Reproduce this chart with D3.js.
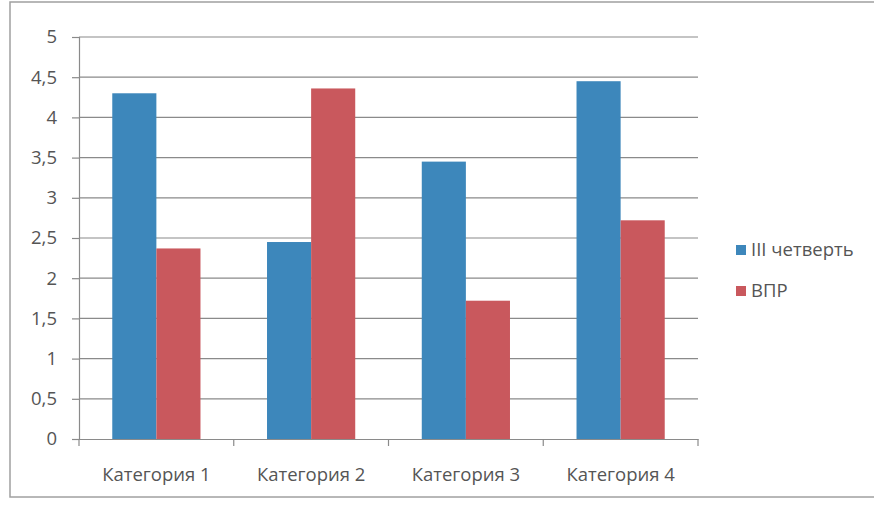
<!DOCTYPE html>
<html><head><meta charset="utf-8">
<script src="https://cdn.jsdelivr.net/npm/d3@7"></script>
<style>body{margin:0;background:#fff}svg{display:block}</style>
</head><body>
<svg id="c" width="874" height="511"></svg>
<script>
const categories = ["Категория 1","Категория 2","Категория 3","Категория 4"];
const seriesNames = ["III четверть","ВПР"];
const quarterValues = [4.3, 2.45, 3.45, 4.45];
const vprValues = [2.37, 4.36, 1.72, 2.72];
const yTicks = [0,0.5,1,1.5,2,2.5,3,3.5,4,4.5,5];
const colors = ["#3d87bb","#c9585d"];

const svg = d3.select("#c");
const font = "'Open Sans', 'Noto Sans', sans-serif";
const fs = 18.5;
const textColor = "#555";

// outer chart border
svg.append("rect").attr("x",10).attr("y",2).attr("width",880).attr("height",495)
  .attr("fill","#fff").attr("stroke","#a0a0a0").attr("stroke-width",1.5);

const L = 79, R = 698, T = 37, B = 439;
const x = d3.scaleBand().domain(categories).range([L,R]).paddingInner(0.43).paddingOuter(0.215);
const xs = d3.scaleBand().domain(seriesNames).range([0,x.bandwidth()]);
const y = d3.scaleLinear().domain([0,5]).range([B,T]);
const fmt = d => String(d).replace(".",",");

// gridlines
svg.append("g").selectAll("line").data(yTicks.filter(d=>d>0)).join("line")
  .attr("x1",L).attr("x2",R).attr("y1",d=>y(d)).attr("y2",d=>y(d))
  .attr("stroke","#8a8a8a").attr("stroke-width",1.2);

// y axis
const ya = svg.append("g").attr("transform",`translate(${L},0)`)
  .call(d3.axisLeft(y).tickValues(yTicks).tickFormat(fmt).tickSize(7).tickPadding(15));
ya.select(".domain").attr("stroke","#8a8a8a").attr("stroke-width",1.2);
ya.selectAll(".tick line").attr("stroke","#8a8a8a").attr("stroke-width",1.2);
ya.selectAll("text").attr("font-family",font).attr("font-size",fs).attr("fill",textColor);

// bars
const data = categories.map((c,i)=>({c, vals:[quarterValues[i], vprValues[i]]}));
const g = svg.append("g").selectAll("g").data(data).join("g")
  .attr("transform",d=>`translate(${x(d.c)},0)`);
g.selectAll("rect").data(d=>d.vals.map((v,j)=>({s:seriesNames[j],v,j}))).join("rect")
  .attr("x",d=>xs(d.s)).attr("width",xs.bandwidth())
  .attr("y",d=>y(d.v)).attr("height",d=>B-y(d.v))
  .attr("fill",d=>colors[d.j]);

// x axis
const xa = svg.append("g").attr("transform",`translate(0,${B})`)
  .call(d3.axisBottom(x).tickSize(0).tickPadding(29));
xa.select(".domain").attr("stroke","#8a8a8a").attr("stroke-width",1.2);
xa.selectAll("text").attr("font-family",font).attr("font-size",fs).attr("fill",textColor);
const step = x.step();
svg.append("g").selectAll("line").data(d3.range(categories.length+1)).join("line")
  .attr("x1",d=>L+d*step).attr("x2",d=>L+d*step).attr("y1",B).attr("y2",B+7)
  .attr("stroke","#8a8a8a").attr("stroke-width",1.2);

// legend
const lg = svg.append("g").selectAll("g").data(seriesNames).join("g")
  .attr("transform",(d,i)=>`translate(736,${250+i*41})`);
lg.append("rect").attr("x",0).attr("y",-5).attr("width",10).attr("height",10).attr("fill",(d,i)=>colors[i]);
lg.append("text").attr("x",15).attr("y",0).attr("dy","0.35em").text(d=>d)
  .attr("font-family",font).attr("font-size",fs).attr("fill",textColor);
</script>
</body></html>
